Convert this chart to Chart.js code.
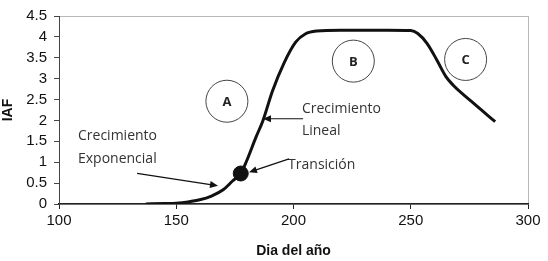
<!DOCTYPE html>
<html>
<head>
<meta charset="utf-8">
<script src="https://cdn.jsdelivr.net/npm/chart.js@4"></script>
<style>
  html, body { margin: 0; padding: 0; background: #fff; }
  #wrap { width: 548px; height: 261px; }
</style>
</head>
<body>
<div id="wrap"><canvas id="iafChart"></canvas></div>
<script>
// curva de IAF
var dias = [137, 145, 150, 155, 160, 165, 170, 174, 177.5, 180, 184, 187, 191, 196, 201, 205, 210, 220, 240, 250, 253, 257, 261, 265, 268, 276, 286];
var iaf  = [0, 0.01, 0.02, 0.05, 0.1, 0.19, 0.34, 0.55, 0.73, 1.03, 1.6, 2.0, 2.7, 3.38, 3.88, 4.07, 4.14, 4.16, 4.16, 4.15, 4.08, 3.84, 3.46, 3.05, 2.85, 2.45, 1.97];
var transicion = [{x: 177.5, y: 0.73}];
var xTicks = [100, 150, 200, 250, 300];

var fases = [
    {label: "A", x: 171.6, y: 2.46},
    {label: "B", x: 225.5, y: 3.42},
    {label: "C", x: 273.4, y: 3.46}
];
var textos = [
    {text: "Crecimiento", x: 108.1, y: 1.63},
    {text: "Exponencial", x: 108.1, y: 1.08},
    {text: "Crecimiento", x: 203.6, y: 2.27},
    {text: "Lineal", x: 203.6, y: 1.74},
    {text: "Transición", x: 197.7, y: 0.94}
];
var flechas = [
    {x1: 133.3, y1: 0.735, x2: 167.8, y2: 0.436},
    {x1: 204.1, y1: 2.04, x2: 187.0, y2: 2.04},
    {x1: 198.1, y1: 1.08, x2: 181.0, y2: 0.76}
];

var puntos = dias.map(function (d, i) { return {x: d, y: iaf[i]}; });

var anotaciones = {
    id: 'anotaciones',
    beforeDraw: function (chart) {
        var a = chart.chartArea, c = chart.ctx;
        c.save();
        c.strokeStyle = '#b8b8b8';
        c.lineWidth = 1;
        c.strokeRect(a.left + 0.5, a.top + 0.5, a.right - a.left, a.bottom - a.top);
        c.restore();
    },
    afterDatasetsDraw: function (chart) {
        var c = chart.ctx, sx = chart.scales.x, sy = chart.scales.y;
        c.save();
        fases.forEach(function (f) {
            var px = sx.getPixelForValue(f.x), py = sy.getPixelForValue(f.y);
            c.beginPath();
            c.arc(px, py, 21, 0, Math.PI * 2);
            c.strokeStyle = '#444';
            c.lineWidth = 1;
            c.stroke();
            c.fillStyle = '#222';
            c.font = 'bold 13px "Open Sans"';
            c.textAlign = 'center';
            c.textBaseline = 'middle';
            c.fillText(f.label, px, py + 1);
        });
        c.fillStyle = '#333';
        c.font = '14px "Open Sans"';
        c.textAlign = 'left';
        c.textBaseline = 'middle';
        textos.forEach(function (t) {
            c.fillText(t.text, sx.getPixelForValue(t.x), sy.getPixelForValue(t.y));
        });
        flechas.forEach(function (f) {
            var x1 = sx.getPixelForValue(f.x1), y1 = sy.getPixelForValue(f.y1);
            var x2 = sx.getPixelForValue(f.x2), y2 = sy.getPixelForValue(f.y2);
            var ang = Math.atan2(y2 - y1, x2 - x1);
            c.strokeStyle = '#111';
            c.fillStyle = '#111';
            c.lineWidth = 1.2;
            c.beginPath();
            c.moveTo(x1, y1);
            c.lineTo(x2 - 6 * Math.cos(ang), y2 - 6 * Math.sin(ang));
            c.stroke();
            c.beginPath();
            c.moveTo(x2, y2);
            c.lineTo(x2 - 8 * Math.cos(ang) + 3.5 * Math.sin(ang), y2 - 8 * Math.sin(ang) - 3.5 * Math.cos(ang));
            c.lineTo(x2 - 8 * Math.cos(ang) - 3.5 * Math.sin(ang), y2 - 8 * Math.sin(ang) + 3.5 * Math.cos(ang));
            c.closePath();
            c.fill();
        });
        c.restore();
    }
};

var ctx = document.getElementById('iafChart').getContext('2d');
var myChart = new Chart(ctx, {
    type: 'line',
    data: {
        datasets: [
            {
                data: puntos,
                borderColor: '#111',
                borderWidth: 3,
                pointRadius: 0,
                cubicInterpolationMode: 'monotone',
                fill: false
            },
            {
                data: transicion,
                showLine: false,
                pointRadius: 7.5,
                pointBackgroundColor: '#111',
                pointBorderColor: '#111'
            }
        ]
    },
    plugins: [anotaciones],
    options: {
        responsive: true,
        maintainAspectRatio: false,
        animation: false,
        layout: { padding: { left: 0, top: 8, right: 20, bottom: 0 } },
        plugins: {
            legend: { display: false },
            tooltip: { enabled: false }
        },
        scales: {
            x: {
                type: 'linear',
                min: 100,
                max: 300,
                afterFit: function (s) { s.height = 57; },
                afterBuildTicks: function (s) { s.ticks = xTicks.map(function (v) { return {value: v}; }); },
                grid: { drawOnChartArea: false, drawTicks: true, tickLength: 5, color: '#222' },
                border: { color: '#222', width: 1.5 },
                ticks: { color: '#111', font: { family: 'Liberation Sans', size: 15 }, padding: 3, maxRotation: 0, autoSkip: false },
                title: { display: true, text: 'Dia del año', color: '#111', font: { family: 'Liberation Sans', size: 14, weight: 'bold' }, padding: { top: 0, bottom: 1 } }
            },
            y: {
                min: 0,
                max: 4.5,
                afterFit: function (s) { s.width = 59; },
                grid: { drawOnChartArea: false, drawTicks: true, tickLength: 5, color: '#444' },
                border: { color: '#444', width: 1 },
                ticks: {
                    stepSize: 0.5,
                    autoSkip: false,
                    color: '#111',
                    font: { family: 'Liberation Sans', size: 15 },
                    padding: 7,
                    callback: function (v) { return String(v); }
                },
                title: { display: true, text: 'IAF', color: '#111', font: { family: 'Liberation Sans', size: 14, weight: 'bold' }, padding: { top: 0, bottom: 0 } }
            }
        }
    }
});
</script>
</body>
</html>
